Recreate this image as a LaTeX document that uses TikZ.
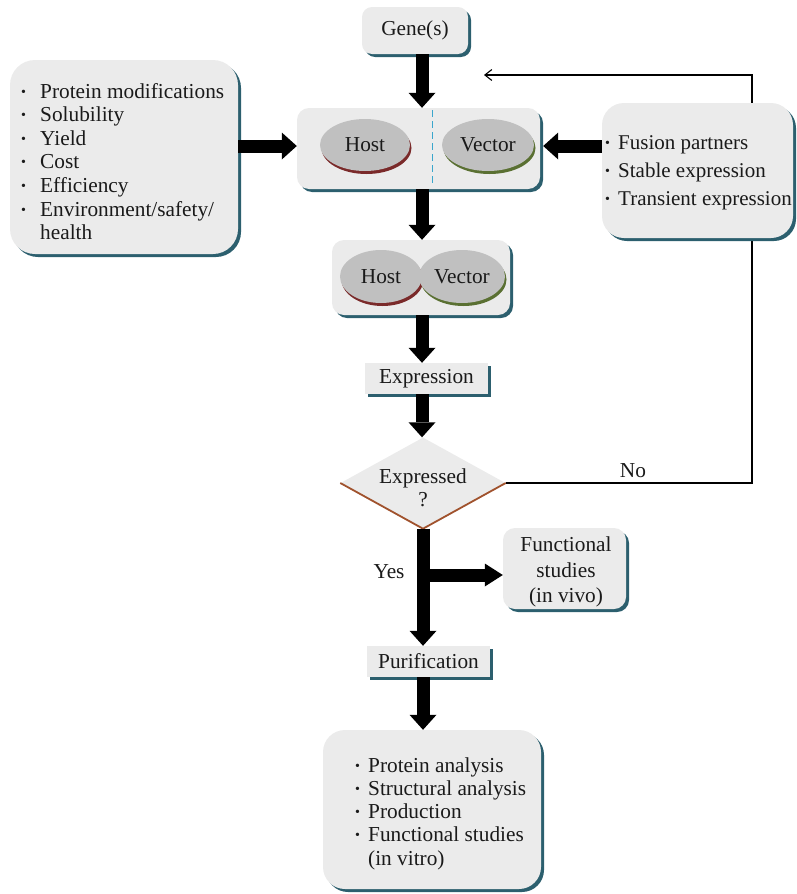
\documentclass[tikz,border=0pt]{standalone}
\usepackage{fontspec}
\setmainfont{Liberation Serif}
\usetikzlibrary{shapes.geometric,shadows,arrows.meta}
\definecolor{boxgray}{HTML}{EBEBEB}
\definecolor{shteal}{HTML}{2C5F6E}
\definecolor{ellgray}{HTML}{C0C0C0}
\definecolor{hostred}{HTML}{7A2A2A}
\definecolor{vecgreen}{HTML}{5A7032}
\definecolor{dashblue}{HTML}{3AA6CC}
\definecolor{diabrown}{HTML}{A0522D}
\definecolor{txtcol}{HTML}{1A1A1A}
\newcommand\bul{\raisebox{0.2ex}{\fontsize{14}{14}\selectfont\textbullet}}
\begin{document}
\begin{tikzpicture}[x=1pt,y=-1pt,font=\fontsize{21.3}{23}\selectfont,text=txtcol,
  box/.style={fill=boxgray,draw=none,inner sep=0pt,
    general shadow={shadow xshift=3pt,shadow yshift=-3pt,fill=shteal}},
  ell/.style={ellipse,fill=ellgray,inner sep=0pt},
  hostell/.style={ell,general shadow={shadow xshift=1.5pt,shadow yshift=-3pt,fill=hostred}},
  vecell/.style={ell,general shadow={shadow xshift=1.5pt,shadow yshift=-3pt,fill=vecgreen}},
  big/.style={line width=13pt,-{Triangle[width=27pt,length=15pt,line width=0pt]}},
  bigb/.style={line width=13pt,-{Triangle[width=23pt,length=18pt,line width=0pt]}},
  thinarrow/.style={line width=1.1pt,-{Straight Barb[length=7pt,width=11pt]}},
  txt/.style={inner sep=0pt,anchor=base west}]
\useasboundingbox (0,0) rectangle (796,894);

% decision diamond
\node[diamond,fill=boxgray,minimum width=165pt,minimum height=91pt,inner sep=0pt] (dia) at (423,483) {};
\draw[diabrown,line width=1.8pt] (dia.west) -- (dia.south) -- (dia.east);
\node[align=center,inner sep=0pt] (diatext) at (423,488) {Expressed\\?};

% feedback line
\coordinate (fbc) at (752,75);
\coordinate (fbend) at (484,75);
\draw[thinarrow] (dia.east) -- (fbc |- dia.east) -- (fbc) -- (fbend);
\node (no) at (633,471) {No};

% gene
\node[box,rounded corners=10pt,minimum width=106pt,minimum height=47pt] (gene) at (415,30.5) {Gene(s)};

% host/vector box
\node[box,rounded corners=12pt,minimum width=243pt,minimum height=81pt] (hv) at (418.5,148.5) {};
\draw[dashblue,line width=1.2pt,dash pattern=on 7pt off 4pt] (432.7,110) -- (432.7,184);
\node[hostell,minimum width=90pt,minimum height=52pt] (host1) at (365,145) {Host};
\node[vecell,minimum width=92pt,minimum height=52pt] (vec1) at (488,145) {Vector};

% left box
\node[box,rounded corners=25pt,minimum width=228pt,minimum height=194pt] (left) at (124,157) {};
\node[txt,font=\fontsize{21.3}{23.6}\selectfont] (lefttext) at (21,98) {\begin{tabular}[t]{@{}p{19pt}@{}l@{}}
\bul & Protein modifications\\
\bul & Solubility\\
\bul & Yield\\
\bul & Cost\\
\bul & Efficiency\\
\bul & Environment/safety/\\
 & health
\end{tabular}};

% right box
\node[box,rounded corners=22pt,minimum width=191pt,minimum height=135pt] (right) at (697.5,170.5) {};
\node[txt,font=\fontsize{21}{28}\selectfont] (righttext) at (605,149) {\begin{tabular}[t]{@{}p{13pt}@{}l@{}}
\bul & Fusion partners\\
\bul & Stable expression\\
\bul & Transient expression
\end{tabular}};

% combined box
\node[box,rounded corners=12pt,minimum width=178pt,minimum height=75pt] (comb) at (421,277.5) {};
\node[hostell,minimum width=82pt,minimum height=53pt] (host2) at (381,276.5) {Host};
\node[vecell,minimum width=86pt,minimum height=53pt] (vec2) at (462,276.5) {Vector};

% expression
\node[box,minimum width=123pt,minimum height=31pt] (expr) at (426.5,378.5) {Expression};

% functional studies
\node[box,rounded corners=12pt,minimum width=123pt,minimum height=81pt] (func) at (564.5,568.5) {};
\node[align=center,inner sep=0pt,font=\fontsize{21.3}{25.5}\selectfont] (functext) at (566,572) {Functional\\studies\\(in vivo)};
\node (yes) at (389,572) {Yes};

% purification
\node[box,minimum width=123pt,minimum height=31pt] (pur) at (428.5,661.5) {Purification};

% bottom box
\node[box,rounded corners=22pt,minimum width=218pt,minimum height=159pt] (bot) at (432,809.5) {};
\node[txt,font=\fontsize{21.3}{23.25}\selectfont] (bottext) at (355,772) {\begin{tabular}[t]{@{}p{13pt}@{}l@{}}
\bul & Protein analysis\\
\bul & Structural analysis\\
\bul & Production\\
\bul & Functional studies\\
 & (in vitro)
\end{tabular}};

% thick arrows
\draw[big] (422,0 |- gene.south) -- (422,0 |- hv.north);
\draw[big] (left.east |- 0,146) -- (hv.west |- 0,146);
\draw[big,shorten >=3pt] (right.west |- 0,146) -- (hv.east |- 0,146);
\draw[big] (422,0 |- hv.south) -- (422,0 |- comb.north);
\draw[big] (422,0 |- comb.south) -- (422,0 |- expr.north);
\draw[big] (422,0 |- expr.south) -- (422,0 |- dia.north);
\draw[big] (423,0 |- dia.south) -- (423,0 |- pur.north);
\coordinate (yb) at (423,575);
\draw[bigb] (yb) -- (yb -| func.west);
\draw[big] (423,0 |- pur.south) -- (423,0 |- bot.north);
\end{tikzpicture}
\end{document}
